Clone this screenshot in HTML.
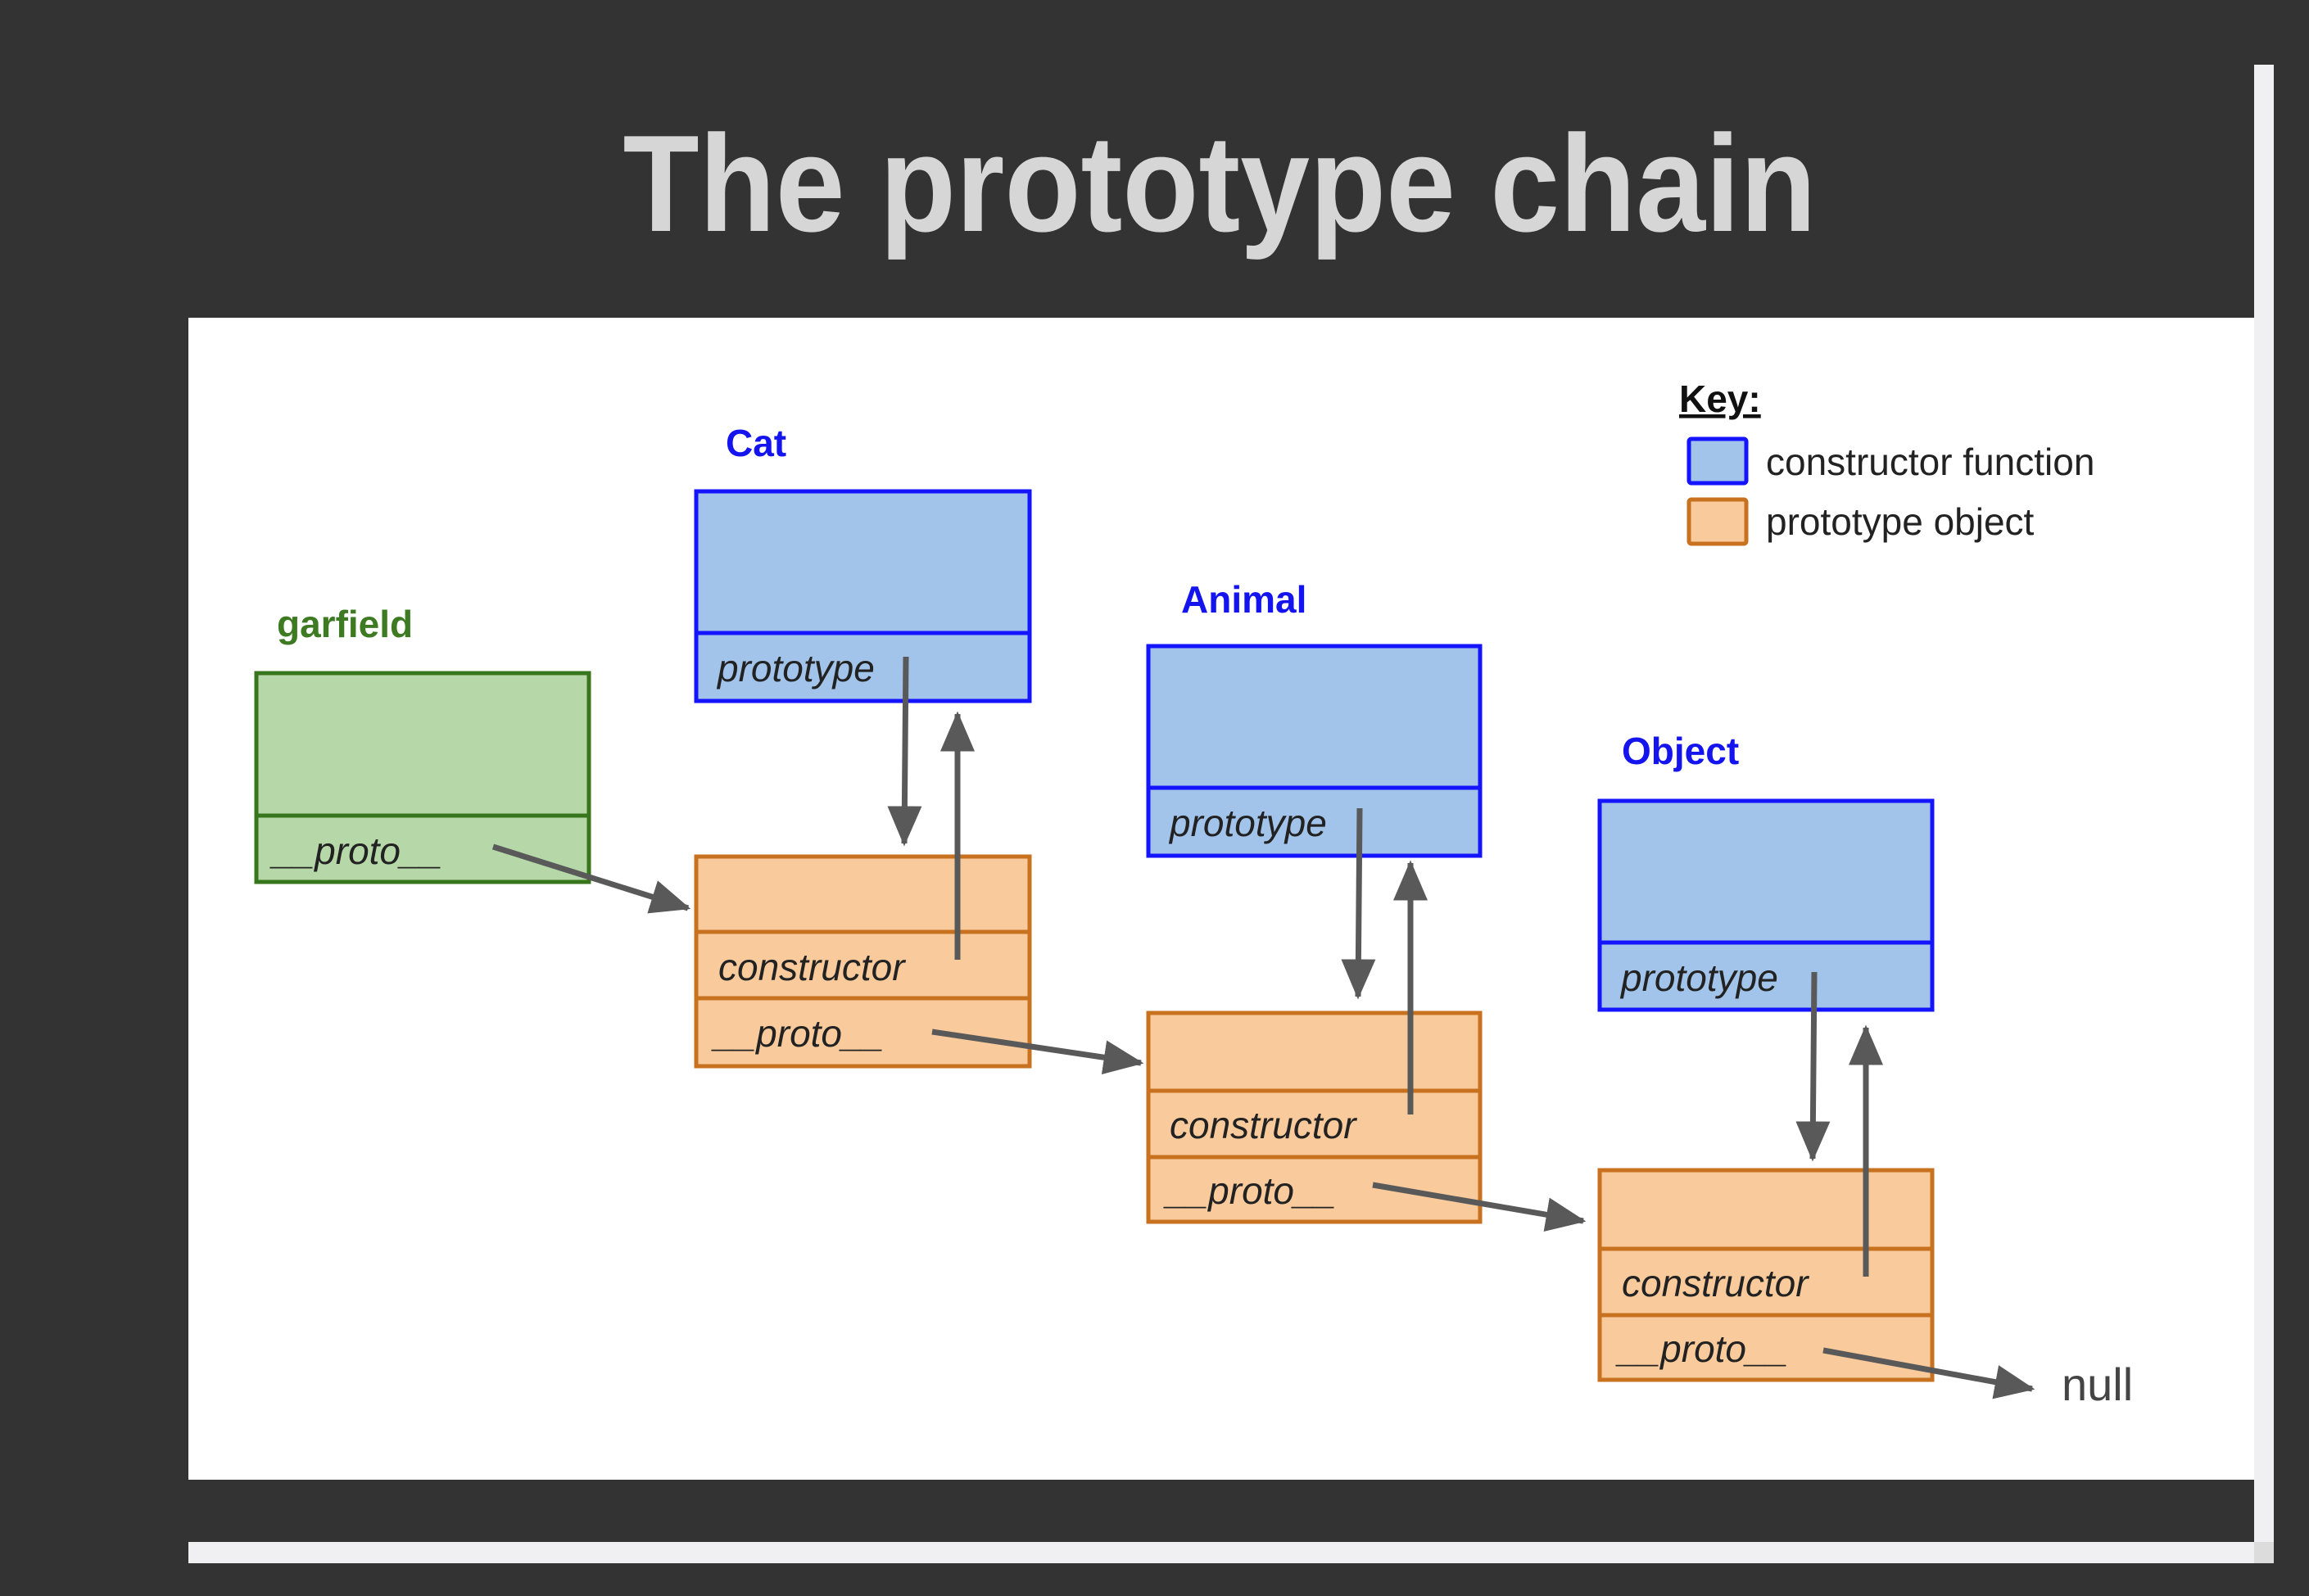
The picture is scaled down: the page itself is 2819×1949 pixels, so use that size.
<!DOCTYPE html>
<html><head><meta charset="utf-8"><style>
html,body{margin:0;padding:0;background:#333333;}
svg{display:block;}
</style></head><body>
<svg width="2819" height="1949" viewBox="0 0 2819 1949" xmlns="http://www.w3.org/2000/svg" font-family="Liberation Sans, Arial, sans-serif">
<defs>
<marker id="ah" markerWidth="7" markerHeight="6" refX="6.5" refY="3" orient="auto" markerUnits="strokeWidth">
<path d="M0,0 L7,3 L0,6 Z" fill="#595959"/>
</marker>
</defs>
<rect x="0" y="0" width="2819" height="1949" fill="#333333"/>
<!-- title -->
<text x="1489" y="282" text-anchor="middle" font-size="168" font-weight="bold" fill="#d6d6d6" textLength="1457" lengthAdjust="spacingAndGlyphs">The prototype chain</text>
<!-- panel -->
<rect x="230" y="388" width="2522" height="1419" fill="#ffffff"/>
<!-- scrollbars -->
<rect x="2752" y="79" width="24" height="1830" fill="#f0f0f2"/>
<rect x="230" y="1883" width="2546" height="26" fill="#f0f0f2"/>
<rect x="2752" y="1883" width="24" height="26" fill="#dcdcdc"/>

<g stroke-width="5">
<!-- garfield -->
<rect x="313" y="822" width="406" height="255" fill="#b6d7a8" stroke="#38761d"/>
<line x1="313" y1="996" x2="719" y2="996" stroke="#38761d"/>
<!-- Cat -->
<rect x="850" y="600" width="407" height="256" fill="#a2c4ea" stroke="#1414ff"/>
<line x1="850" y1="773" x2="1257" y2="773" stroke="#1414ff"/>
<rect x="850" y="1046" width="407" height="256" fill="#f9cb9c" stroke="#c8711f"/>
<line x1="850" y1="1138" x2="1257" y2="1138" stroke="#c8711f"/>
<line x1="850" y1="1219" x2="1257" y2="1219" stroke="#c8711f"/>
<!-- Animal -->
<rect x="1402" y="789" width="405" height="256" fill="#a2c4ea" stroke="#1414ff"/>
<line x1="1402" y1="962" x2="1807" y2="962" stroke="#1414ff"/>
<rect x="1402" y="1237" width="405" height="255" fill="#f9cb9c" stroke="#c8711f"/>
<line x1="1402" y1="1332" x2="1807" y2="1332" stroke="#c8711f"/>
<line x1="1402" y1="1413" x2="1807" y2="1413" stroke="#c8711f"/>
<!-- Object -->
<rect x="1953" y="978" width="406" height="255" fill="#a2c4ea" stroke="#1414ff"/>
<line x1="1953" y1="1151" x2="2359" y2="1151" stroke="#1414ff"/>
<rect x="1953" y="1429" width="406" height="256" fill="#f9cb9c" stroke="#c8711f"/>
<line x1="1953" y1="1525" x2="2359" y2="1525" stroke="#c8711f"/>
<line x1="1953" y1="1606" x2="2359" y2="1606" stroke="#c8711f"/>
<!-- key squares -->
<rect x="2062" y="536" width="70" height="54" fill="#a2c4ea" stroke="#1414ff" rx="3"/>
<rect x="2062" y="610" width="70" height="54" fill="#f9cb9c" stroke="#c8711f" rx="3"/>
</g>

<!-- labels -->
<g font-weight="bold" font-size="46">
<text x="338" y="778" fill="#3d7a22">garfield</text>
<text x="886" y="557" fill="#1414ee">Cat</text>
<text x="1442" y="748" fill="#1414ee">Animal</text>
<text x="1980" y="933" fill="#1414ee">Object</text>
</g>
<g font-style="italic" font-size="46" fill="#222">
<text x="876" y="832">prototype</text>
<text x="1428" y="1021">prototype</text>
<text x="1979" y="1210">prototype</text>
<text x="333" y="1055">__proto__</text>
<text x="877" y="1197">constructor</text>
<text x="872" y="1278">__proto__</text>
<text x="1428" y="1390">constructor</text>
<text x="1424" y="1470">__proto__</text>
<text x="1980" y="1583">constructor</text>
<text x="1976" y="1663">__proto__</text>
</g>
<text x="2517" y="1710" font-size="56" fill="#444">null</text>
<!-- key -->
<text x="2050" y="503" font-size="46" font-weight="bold" fill="#111" text-decoration="underline">Key:</text>
<text x="2156" y="580" font-size="46" fill="#222">constructor function</text>
<text x="2156" y="653" font-size="46" fill="#222">prototype object</text>

<!-- arrows -->
<g stroke="#595959" stroke-width="7" fill="none" marker-end="url(#ah)">
<line x1="602" y1="1034" x2="840" y2="1109"/>
<line x1="1106" y1="802" x2="1104" y2="1030"/>
<line x1="1169" y1="1172" x2="1169" y2="872"/>
<line x1="1138" y1="1260" x2="1393" y2="1298"/>
<line x1="1660" y1="987" x2="1658" y2="1217"/>
<line x1="1722" y1="1361" x2="1722" y2="1054"/>
<line x1="1676" y1="1447" x2="1933" y2="1491"/>
<line x1="2215" y1="1187" x2="2213" y2="1415"/>
<line x1="2278" y1="1559" x2="2278" y2="1255"/>
<line x1="2226" y1="1649" x2="2481" y2="1696"/>
</g>
</svg>
</body></html>
